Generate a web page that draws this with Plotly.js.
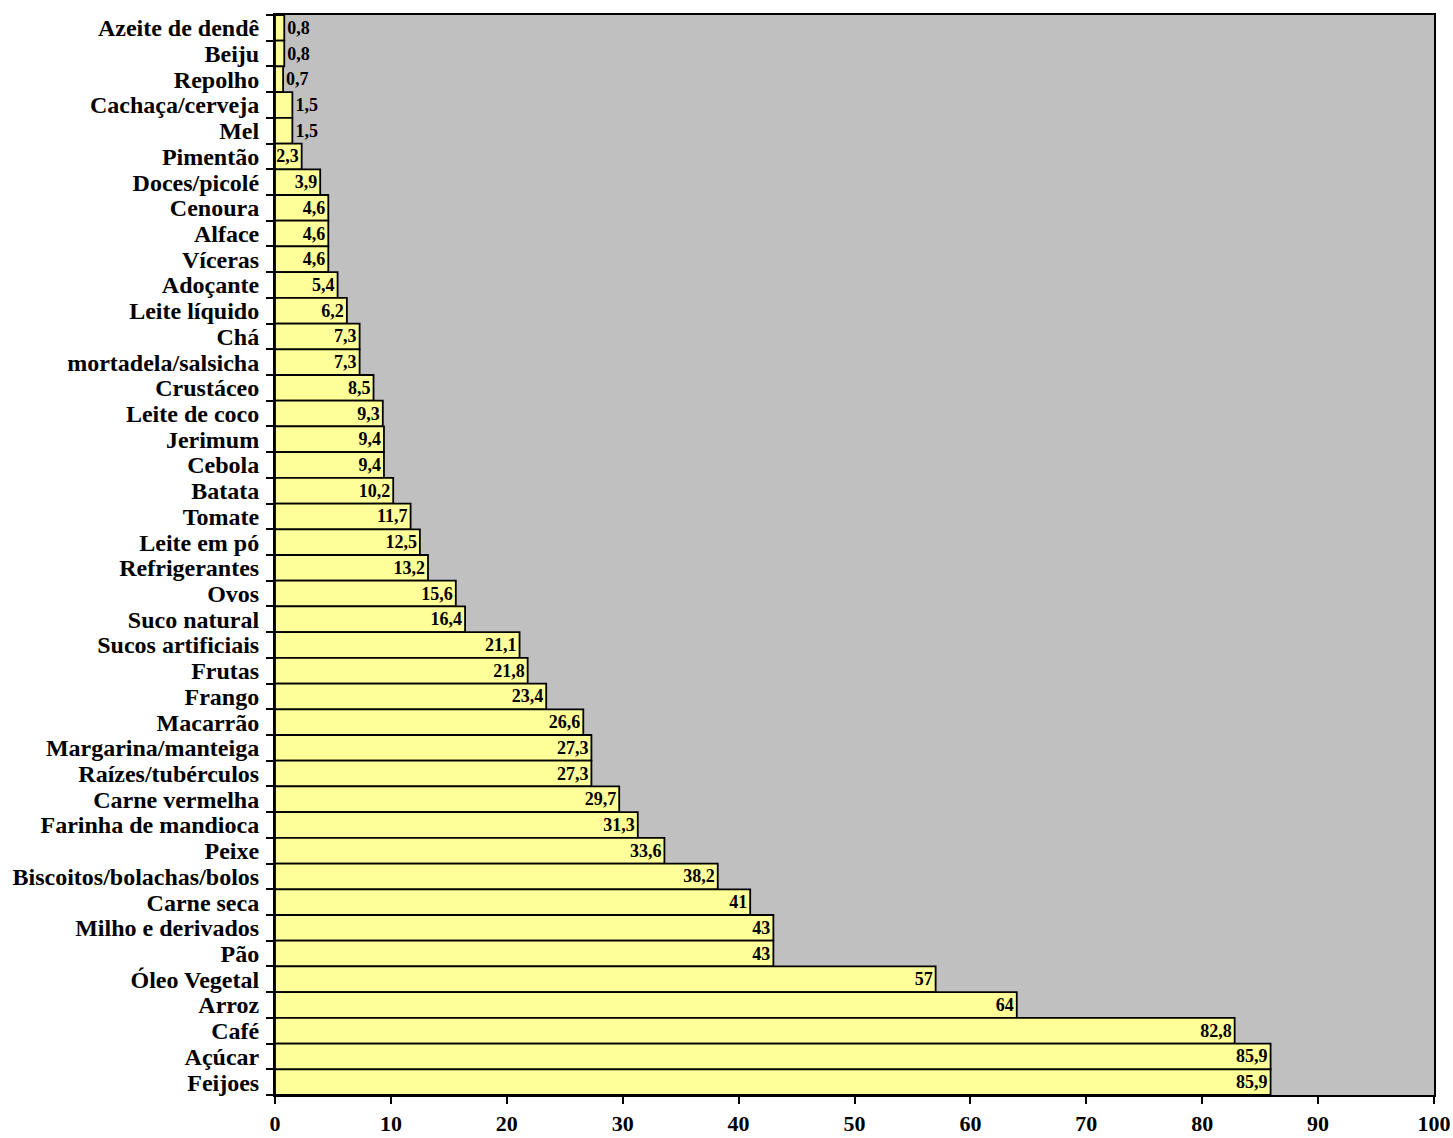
<!DOCTYPE html>
<html>
<head>
<meta charset="utf-8">
<script src="https://cdn.plot.ly/plotly-3.0.1.min.js"></script>
<style>
  html, body { margin: 0; padding: 0; background: #ffffff; }
  #chart { width: 1453px; height: 1138px; }
</style>
</head>
<body>
<div id="chart"></div>
<script>
// Food items, listed from top to bottom of the chart
const foods = [
  "Azeite de dendê", "Beiju", "Repolho", "Cachaça/cerveja", "Mel",
  "Pimentão", "Doces/picolé", "Cenoura", "Alface", "Víceras",
  "Adoçante", "Leite líquido", "Chá", "mortadela/salsicha", "Crustáceo",
  "Leite de coco", "Jerimum", "Cebola", "Batata", "Tomate",
  "Leite em pó", "Refrigerantes", "Ovos", "Suco natural", "Sucos artificiais",
  "Frutas", "Frango", "Macarrão", "Margarina/manteiga", "Raízes/tubérculos",
  "Carne vermelha", "Farinha de mandioca", "Peixe", "Biscoitos/bolachas/bolos", "Carne seca",
  "Milho e derivados", "Pão", "Óleo Vegetal", "Arroz", "Café",
  "Açúcar", "Feijoes"
];

// Percentage for each food item
const percents = [
  0.8, 0.8, 0.7, 1.5, 1.5,
  2.3, 3.9, 4.6, 4.6, 4.6,
  5.4, 6.2, 7.3, 7.3, 8.5,
  9.3, 9.4, 9.4, 10.2, 11.7,
  12.5, 13.2, 15.6, 16.4, 21.1,
  21.8, 23.4, 26.6, 27.3, 27.3,
  29.7, 31.3, 33.6, 38.2, 41,
  43, 43, 57, 64, 82.8,
  85.9, 85.9
];

const xTicks = [0, 10, 20, 30, 40, 50, 60, 70, 80, 90, 100];

const labels = percents.map(v => String(v).replace(".", ","));
const positions = percents.map(v => v < 2 ? "outside" : "inside");

const serif = "Liberation Serif, Times New Roman, serif";

const trace = {
  type: "bar",
  orientation: "h",
  y: foods,
  x: percents,
  text: labels,
  textposition: positions,
  textangle: 0,
  insidetextanchor: "end",
  textfont: { family: serif, size: 18, color: "#000000", weight: "bold" },
  constraintext: "none",
  cliponaxis: false,
  marker: { color: "#FFFF99", line: { color: "#000000", width: 1.8 } },
  hoverinfo: "skip"
};

const layout = {
  width: 1453,
  height: 1138,
  margin: { l: 275, r: 19, t: 15, b: 43 },
  paper_bgcolor: "#ffffff",
  plot_bgcolor: "#C0C0C0",
  bargap: 0,
  showlegend: false,
  font: { family: serif, color: "#000000" },
  xaxis: {
    range: [0, 100],
    tickmode: "array",
    tickvals: xTicks,
    ticktext: xTicks.map(String),
    ticks: "outside",
    ticklen: 7,
    tickwidth: 2,
    tickcolor: "#000000",
    ticklabelstandoff: 1,
    tickfont: { family: serif, size: 22, color: "#000000", weight: "bold" },
    showgrid: false,
    zeroline: false,
    showline: true,
    linecolor: "#000000",
    linewidth: 2,
    mirror: true,
    fixedrange: true
  },
  yaxis: {
    type: "category",
    autorange: "reversed",
    tickmode: "array",
    tickvals: foods,
    ticktext: foods,
    ticks: "outside",
    tickson: "boundaries",
    ticklen: 7,
    tickwidth: 2,
    tickcolor: "#000000",
    ticklabelstandoff: 9,
    tickfont: { family: serif, size: 24, color: "#000000", weight: "bold" },
    showgrid: false,
    zeroline: false,
    showline: true,
    linecolor: "#000000",
    linewidth: 2,
    mirror: true,
    fixedrange: true
  }
};

Plotly.newPlot("chart", [trace], layout, { displayModeBar: false, staticPlot: true });
</script>
</body>
</html>
